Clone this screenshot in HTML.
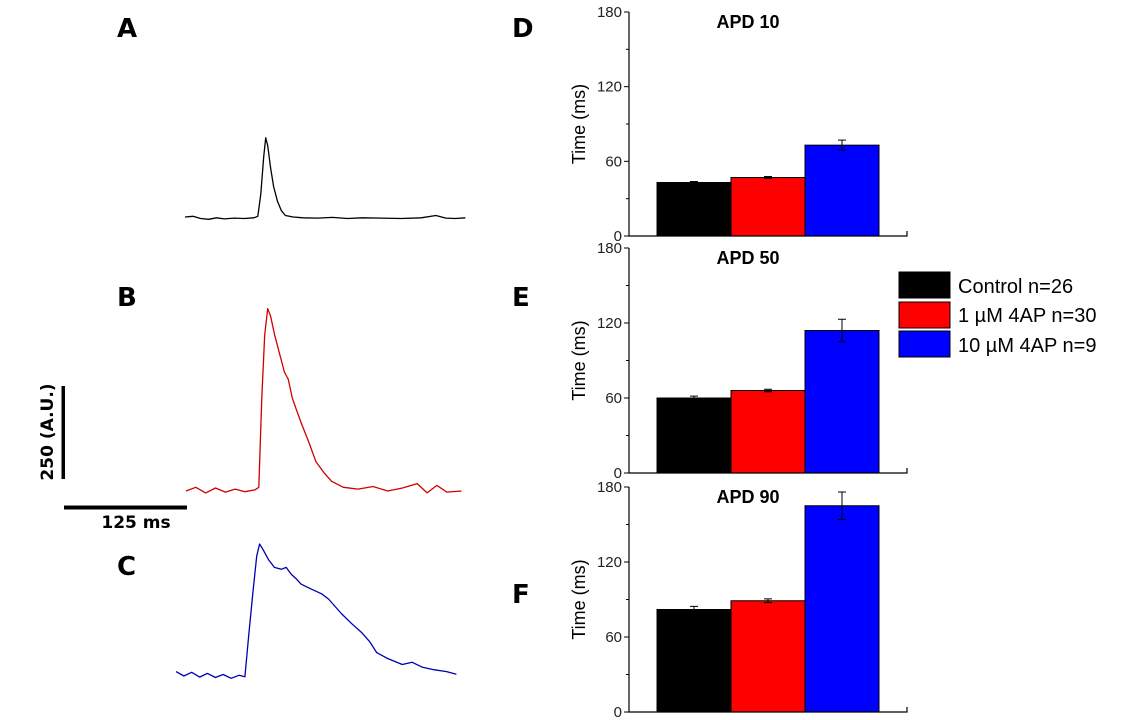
<!DOCTYPE html>
<html><head><meta charset="utf-8"><style>
html,body{margin:0;padding:0;background:#fff;}
svg{display:block;font-family:"Liberation Sans",Arial,sans-serif;}
.lbl{font-family:"DejaVu Sans","Liberation Sans",sans-serif;font-weight:bold;}
.ttl{font-family:"Liberation Sans",Arial,sans-serif;font-weight:bold;}
</style></head><body>
<svg id="fig" width="1143" height="720" viewBox="0 0 1143 720">
<g id="traces"></g>
<g id="bars"></g>
<g class="lbl" font-size="26">
<text x="117" y="37">A</text>
<text x="117" y="306">B</text>
<text x="117" y="575">C</text>
<text x="512" y="37">D</text>
<text x="512" y="306">E</text>
<text x="512" y="603">F</text>
</g>
<g>
<rect x="61.5" y="386" width="3.5" height="93" fill="#000"/>
<text class="lbl" font-size="17" transform="translate(53,432) rotate(-90)" text-anchor="middle">250 (A.U.)</text>
<rect x="64" y="505.5" width="123" height="4" fill="#000"/>
<text class="lbl" font-size="17" x="136" y="528" text-anchor="middle">125 ms</text>
</g>
<g font-size="20">
<rect x="899" y="272" width="51" height="26" fill="#000" stroke="#000"/>
<text x="958" y="293">Control n=26</text>
<rect x="899" y="302" width="51" height="26" fill="#ff0000" stroke="#000"/>
<text x="958" y="322">1 µM 4AP n=30</text>
<rect x="899" y="331" width="51" height="26" fill="#0000ff" stroke="#000"/>
<text x="958" y="352">10 µM 4AP n=9</text>
</g>
</svg>
<script>
// ===== Trace data (time in ms, amplitude in A.U. above baseline) =====
const traceATime=[0,8,16,24,32,40,50,60,70,74,77,80,82,84,87,90,94,98,102,110,120,135,150,165,180,200,220,240,255,265,275,285];
const traceAAmp=[8,10,4,2,6,3,5,4,6,10,70,170,221,200,140,90,50,25,12,8,6,5,7,4,6,5,4,6,12,5,4,6];
const traceBTime=[0,10,20,30,40,50,60,70,74,77,80,83,86,90,95,100,104,108,112,117,125,132,140,148,160,175,190,205,220,235,245,255,265,280];
const traceBAmp=[0,10,-5,8,-3,5,-2,3,10,250,420,490,470,420,370,320,300,250,220,184,130,79,50,26,10,5,12,0,8,20,-5,15,-3,0];
const traceCTime=[0,8,16,24,32,40,48,56,64,70,74,78,82,85,88,94,100,107,112,117,122,127,135,148,155,168,178,189,197,204,215,230,240,250,262,275,285];
const traceCAmp=[20,8,18,5,15,4,12,2,10,6,120,230,330,363,350,321,300,295,300,282,270,255,245,229,215,176,150,124,100,71,55,39,45,32,25,20,13];
// ===== Bar chart data =====
const groups=["Control","1 µM 4AP","10 µM 4AP"];
const apd10=[43,47,73]; const apd10Err=[0.8,0.8,4];
const apd50=[60,66,114]; const apd50Err=[1.5,1,9];
const apd90=[82,89,165]; const apd90Err=[2.5,1.5,11];
const yTicks=[0,60,120,180];
const titles=["APD 10","APD 50","APD 90"];

const NS="http://www.w3.org/2000/svg";
function mk(tag,attrs,parent){const e=document.createElementNS(NS,tag);for(const k in attrs)e.setAttribute(k,attrs[k]);parent.appendChild(e);return e;}

const msPx=123/125, auPx=93/250;
const tg=document.getElementById('traces');
function drawTrace(t,a,x0,base,color,name){
  const pts=t.map((v,i)=>(x0+v*msPx).toFixed(1)+","+(base-a[i]*auPx).toFixed(1)).join(" ");
  const p=mk('polyline',{points:pts,fill:'none',stroke:color,'stroke-width':1.3,'stroke-linejoin':'round'},tg);
  
  
}
drawTrace(traceATime,traceAAmp,185,220,'#000','trace-control');
drawTrace(traceBTime,traceBAmp,186,491,'#d00000','trace-1um');
drawTrace(traceCTime,traceCAmp,176,679,'#0000b0','trace-10um');

const bg=document.getElementById('bars');
const colors=['#000','#ff0000','#0000ff'];
const panels=[{v:apd10,e:apd10Err,top:12,bot:236},{v:apd50,e:apd50Err,top:248,bot:473},{v:apd90,e:apd90Err,top:487,bot:712}];
const ax=629, axR=907, bx0=657, bw=74;
panels.forEach((P,pi)=>{
  const g=mk('g',{},bg);
  
  
  const y=v=>P.bot-(v/180)*(P.bot-P.top);
  P.v.forEach((v,i)=>{
    const r=mk('rect',{x:bx0+i*bw,y:y(v),width:bw,height:P.bot-y(v),fill:colors[i],stroke:'#000','stroke-width':1},g);
    
    
    const cx=bx0+i*bw+bw/2, e=P.e[i];
    const eb=mk('path',{d:`M${cx},${y(v+e)}V${y(v-e)}M${cx-4},${y(v+e)}H${cx+4}M${cx-4},${y(v-e)}H${cx+4}`,stroke:'#000','stroke-width':1,fill:'none'},g);
    
    
  });
  const axl=mk('path',{d:`M${ax},${P.top}V${P.bot}H${axR}V${P.bot-5}`,stroke:'#000','stroke-width':1.2,fill:'none'},g);
  
  
  for(let v=0;v<=180;v+=30){
    const major=yTicks.includes(v);
    const tk=mk('line',{x1:ax-(major?5:3),x2:ax,y1:y(v),y2:y(v),stroke:'#000','stroke-width':1},g);
    
    
  }
  yTicks.forEach(v=>{
    const t=mk('text',{x:ax-7,y:y(v)+5,'text-anchor':'end','font-size':15,fill:'#222'},g);
    t.textContent=v;
    
    
  });
  const yt=mk('text',{transform:`translate(585,${(P.top+P.bot)/2}) rotate(-90)`,'text-anchor':'middle','font-size':18},g);
  yt.textContent='Time (ms)';
  
  
  const tt=mk('text',{x:748,y:P.top+16,'text-anchor':'middle','font-size':18,'class':'ttl'},g);
  tt.textContent=titles[pi];
  
  
});
</script>
</body></html>
